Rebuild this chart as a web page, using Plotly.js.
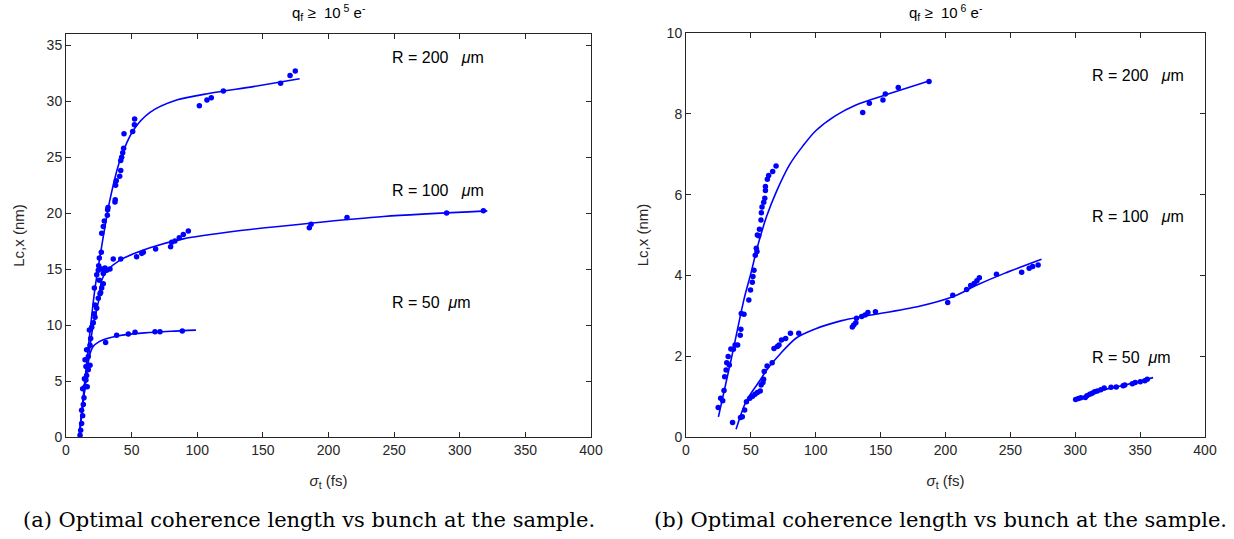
<!DOCTYPE html>
<html><head><meta charset="utf-8">
<script src="https://cdn.plot.ly/plotly-3.0.1.min.js"></script>
<style>html,body{margin:0;padding:0;background:#fff}#chart{width:1234px;height:539px}</style>
</head><body><div id="chart"></div>
<script>
// ---------- Panel (a): q_f >= 1e5 ----------
const a200PtsX = [11.2,12.7,13.7,15.2,17.0,18.3,18.8,20.8,22.1,23.4,21.6,22.1,23.4,24.6,24.9,25.4,26.9,27.2,28.4,29.2,31.5,31.7,32.0,37.3,37.5,37.8,38.3,40.9,41.7,41.7,42.4,43.2,43.9,44.2,50.8,52.1,52.3,101.6,107.4,110.7,119.9,163.5,170.7,174.7];
const a200PtsY = [0.6,1.9,3.5,5.1,6.0,6.4,8.8,10.2,10.7,11.5,13.3,11.8,14.5,14.9,15.3,16.0,16.5,18.2,18.8,19.3,19.8,20.3,20.5,21.0,21.2,22.5,22.9,23.3,23.8,24.7,25.0,25.4,25.8,27.1,27.3,27.9,28.4,29.6,30.1,30.3,30.9,31.6,32.3,32.7];
const a100PtsX = [11.9,13.2,14.5,15.7,17.0,19.6,21.5,24.6,25.9,26.4,27.2,28.4,25.4,27.2,28.4,29.7,31.0,33.5,36.0,41.7,53.8,57.7,58.9,68.3,79.7,80.5,83.0,86.3,89.4,93.2,185.4,186.7,214.1,290.0,318.0];
const a100PtsY = [1.2,2.9,4.5,5.5,7.2,9.8,11.0,12.4,12.8,12.9,13.3,13.7,14.0,15.0,14.6,15.1,14.9,15.0,15.9,15.9,16.1,16.4,16.5,16.8,17.0,17.4,17.5,17.8,18.1,18.4,18.7,19.0,19.6,20.0,20.2];
const a50PtsX = [10.7,11.9,12.7,14.0,15.2,14.5,15.7,16.2,18.3,17.8,30.2,38.6,47.5,52.6,67.8,71.6,88.6];
const a50PtsY = [0.15,2.4,4.3,5.2,6.3,6.9,7.8,4.5,8.2,9.55,8.45,9.1,9.2,9.35,9.4,9.4,9.46];
const a200FitX = [10,14,18,22,26.7,33.5,41.1,51.3,64,84.3,109.7,142.7,178];
const a200FitY = [0,4.6,9.1,13.2,16.7,21.2,24.7,27.4,29.0,30.1,30.7,31.3,32.0];
const a100FitX = [10,15,20,24.9,27.2,31,41.1,64,89.4,130,186,242,321];
const a100FitY = [0,5,9.5,12.2,14.0,14.8,15.8,16.9,17.7,18.4,19.1,19.7,20.2];
const a50FitX = [10,14,18,20.8,25,30,40,60,80,99];
const a50FitY = [0,4,7.3,8.1,8.5,8.75,9.05,9.3,9.45,9.55];

// ---------- Panel (b): q_f >= 1e6 ----------
const b200PtsX = [24.8,26.7,28.3,29.3,29.8,30.9,31.4,32.5,33.4,34.6,36.5,37.8,39.8,41.8,42.3,42.6,44.7,48.4,49.7,51.1,51.6,52.4,53.4,54.2,54.7,55.0,56.0,56.6,57.8,58.1,58.6,59.9,60.7,61.2,61.2,62.7,63.7,66.8,69.4,136.2,141.3,151.8,153.6,163.6,187.3];
const b200PtsY = [0.73,0.96,0.9,1.15,1.49,1.66,1.84,1.99,1.78,2.18,2.17,2.28,2.28,2.52,2.67,3.06,3.04,3.39,3.64,3.83,3.97,4.13,4.5,4.67,4.59,5.0,4.98,5.14,5.37,5.55,5.69,5.81,5.91,6.1,6.2,6.38,6.47,6.57,6.71,8.03,8.26,8.34,8.49,8.65,8.8];
const b100PtsX = [35.9,42.0,43.4,45.2,46.6,49.2,51.3,53.2,55.0,57.2,58.0,59.3,59.8,60.3,62.5,66.4,67.8,70.4,71.7,73.6,76.8,80.5,86.9,128.2,129.3,130.9,131.4,135.4,138.0,140.2,146.0,201.7,205.6,216.3,219.4,222.1,224.2,226.1,239.3,258.7,264.5,267.2,271.4];
const b100PtsY = [0.36,0.48,0.5,0.67,0.87,0.96,1.01,1.06,1.1,1.14,1.29,1.35,1.43,1.62,1.76,1.84,2.19,2.24,2.28,2.4,2.44,2.57,2.57,2.72,2.77,2.83,2.94,2.98,3.02,3.08,3.1,3.33,3.51,3.65,3.75,3.8,3.87,3.94,4.03,4.08,4.18,4.22,4.26];
const b50PtsX = [300.3,302.4,304.3,307.7,309.0,311.2,313.0,314.9,317.0,319.7,322.3,327.6,331.6,336.9,338.2,344.0,346.2,350.1,353.6,355.5];
const b50PtsY = [0.93,0.95,0.97,0.98,1.02,1.06,1.08,1.12,1.14,1.17,1.21,1.23,1.24,1.27,1.29,1.32,1.35,1.37,1.39,1.43];
const b200FitX = [25,35,45,50,55,62,70,80,90,100,115,131,157,186];
const b200FitY = [0.5,1.95,3.45,4.05,4.7,5.45,6.1,6.75,7.2,7.58,7.95,8.22,8.5,8.8];
const b100FitX = [38.6,46.6,57.2,62.2,72.4,85,100,120,139.4,179.1,205.6,224.2,245.4,274];
const b100FitY = [0.19,0.9,1.41,1.66,2.05,2.45,2.68,2.88,3.0,3.23,3.47,3.76,4.05,4.4];
const b100BranchX = [46.6,52,58.3];
const b100BranchY = [0.88,1.0,1.16];
const b50FitX = [300,320,340,360];
const b50FitY = [0.9,1.15,1.3,1.47];

const tickVals = [0,50,100,150,200,250,300,350,400];
const titles = ['q<sub>f</sub> \u2265  10<sup> 5</sup> e<sup>-</sup>', 'q<sub>f</sub> \u2265  10<sup> 6</sup> e<sup>-</sup>'];
const captions = ['(a) Optimal coherence length vs bunch at the sample.', '(b) Optimal coherence length vs bunch at the sample.'];
const rLabels = ['R = 200\u00a0\u00a0\u00a0<i>\u03bc</i>m', 'R = 100\u00a0\u00a0\u00a0<i>\u03bc</i>m', 'R = 50\u00a0\u00a0<i>\u03bc</i>m'];

const BLUE = '#0000ff';
function pts(x, y, xa, ya) { return {x, y, xaxis: xa, yaxis: ya, type: 'scatter', mode: 'markers', marker: {color: BLUE, size: 5.5}, hoverinfo: 'skip'}; }
function fit(x, y, xa, ya) { return {x, y, xaxis: xa, yaxis: ya, type: 'scatter', mode: 'lines', line: {color: BLUE, width: 1.6, shape: 'spline', smoothing: 0.8}, hoverinfo: 'skip'}; }

const data = [
  fit(a200FitX, a200FitY, 'x', 'y'), fit(a100FitX, a100FitY, 'x', 'y'), fit(a50FitX, a50FitY, 'x', 'y'),
  pts(a200PtsX, a200PtsY, 'x', 'y'), pts(a100PtsX, a100PtsY, 'x', 'y'), pts(a50PtsX, a50PtsY, 'x', 'y'),
  fit(b200FitX, b200FitY, 'x2', 'y2'), fit(b100FitX, b100FitY, 'x2', 'y2'), fit(b100BranchX, b100BranchY, 'x2', 'y2'), fit(b50FitX, b50FitY, 'x2', 'y2'),
  pts(b200PtsX, b200PtsY, 'x2', 'y2'), pts(b100PtsX, b100PtsY, 'x2', 'y2'), pts(b50PtsX, b50PtsY, 'x2', 'y2')
];

const FONT = 'Liberation Sans, Arial, Helvetica, sans-serif';
function xax(domain, anchor) {
  return {domain, anchor, range: [0, 400], tickvals: tickVals, ticks: 'inside', ticklen: 5, tickcolor: '#262626',
    mirror: 'ticks', showline: true, linecolor: '#262626', linewidth: 1, showgrid: false, zeroline: false,
    tickfont: {size: 14, family: FONT, color: '#262626'}, automargin: false,
    title: {text: '<i>\u03c3</i><sub>t</sub> (fs)', font: {size: 15, family: FONT, color: '#262626'}, standoff: 18}};
}
function yax(domain, anchor, range, dtick, standoff) {
  return {domain, anchor, range, dtick, ticks: 'inside', ticklen: 5, tickcolor: '#262626',
    mirror: 'ticks', showline: true, linecolor: '#262626', linewidth: 1, showgrid: false, zeroline: false,
    tickfont: {size: 14, family: FONT, color: '#262626'}, automargin: false,
    title: {text: 'Lc,x (nm)', font: {size: 15, family: FONT, color: '#262626'}, standoff}};
}

const ann = [];
const sub = [{xc: (66 + 591) / 2 / 1234, xa: 'x', ya: 'y', lx: 247, ly: [33.9, 22.0, 12.0]},
             {xc: (686 + 1205) / 2 / 1234, xa: 'x2', ya: 'y2', lx: 311, ly: [8.96, 5.47, 1.98]}];
sub.forEach((s, i) => {
  ann.push({text: titles[i], xref: 'paper', yref: 'paper', x: s.xc, y: (539 - 12) / 539, xanchor: 'center', yanchor: 'middle', showarrow: false, font: {size: 15, family: FONT, color: '#000'}});
  ann.push({text: captions[i], xref: 'paper', yref: 'paper', x: (i === 0 ? 309 : 940) / 1234, y: (539 - 520) / 539, xanchor: 'center', yanchor: 'middle', showarrow: false, font: {size: 21, family: 'DejaVu Serif, Liberation Serif, serif', color: '#000'}});
  rLabels.forEach((t, k) => {
    ann.push({text: t, xref: s.xa, yref: s.ya, x: s.lx, y: s.ly[k], xanchor: 'left', yanchor: 'middle', showarrow: false, font: {size: 16, family: FONT, color: '#000'}});
  });
});

const layout = {
  width: 1234, height: 539, margin: {l: 0, r: 0, t: 0, b: 0}, showlegend: false,
  paper_bgcolor: '#fff', plot_bgcolor: '#fff', font: {family: FONT, size: 14, color: '#000'},
  xaxis: xax([66 / 1234, 591 / 1234], 'y'),
  yaxis: yax([102 / 539, 505 / 539], 'x', [0, 36], 5, 18),
  xaxis2: xax([686 / 1234, 1205 / 1234], 'y2'),
  yaxis2: yax([102 / 539, 506 / 539], 'x2', [0, 10], 2, 14),
  annotations: ann
};
Plotly.newPlot('chart', data, layout, {staticPlot: true, displayModeBar: false});
</script></body></html>
